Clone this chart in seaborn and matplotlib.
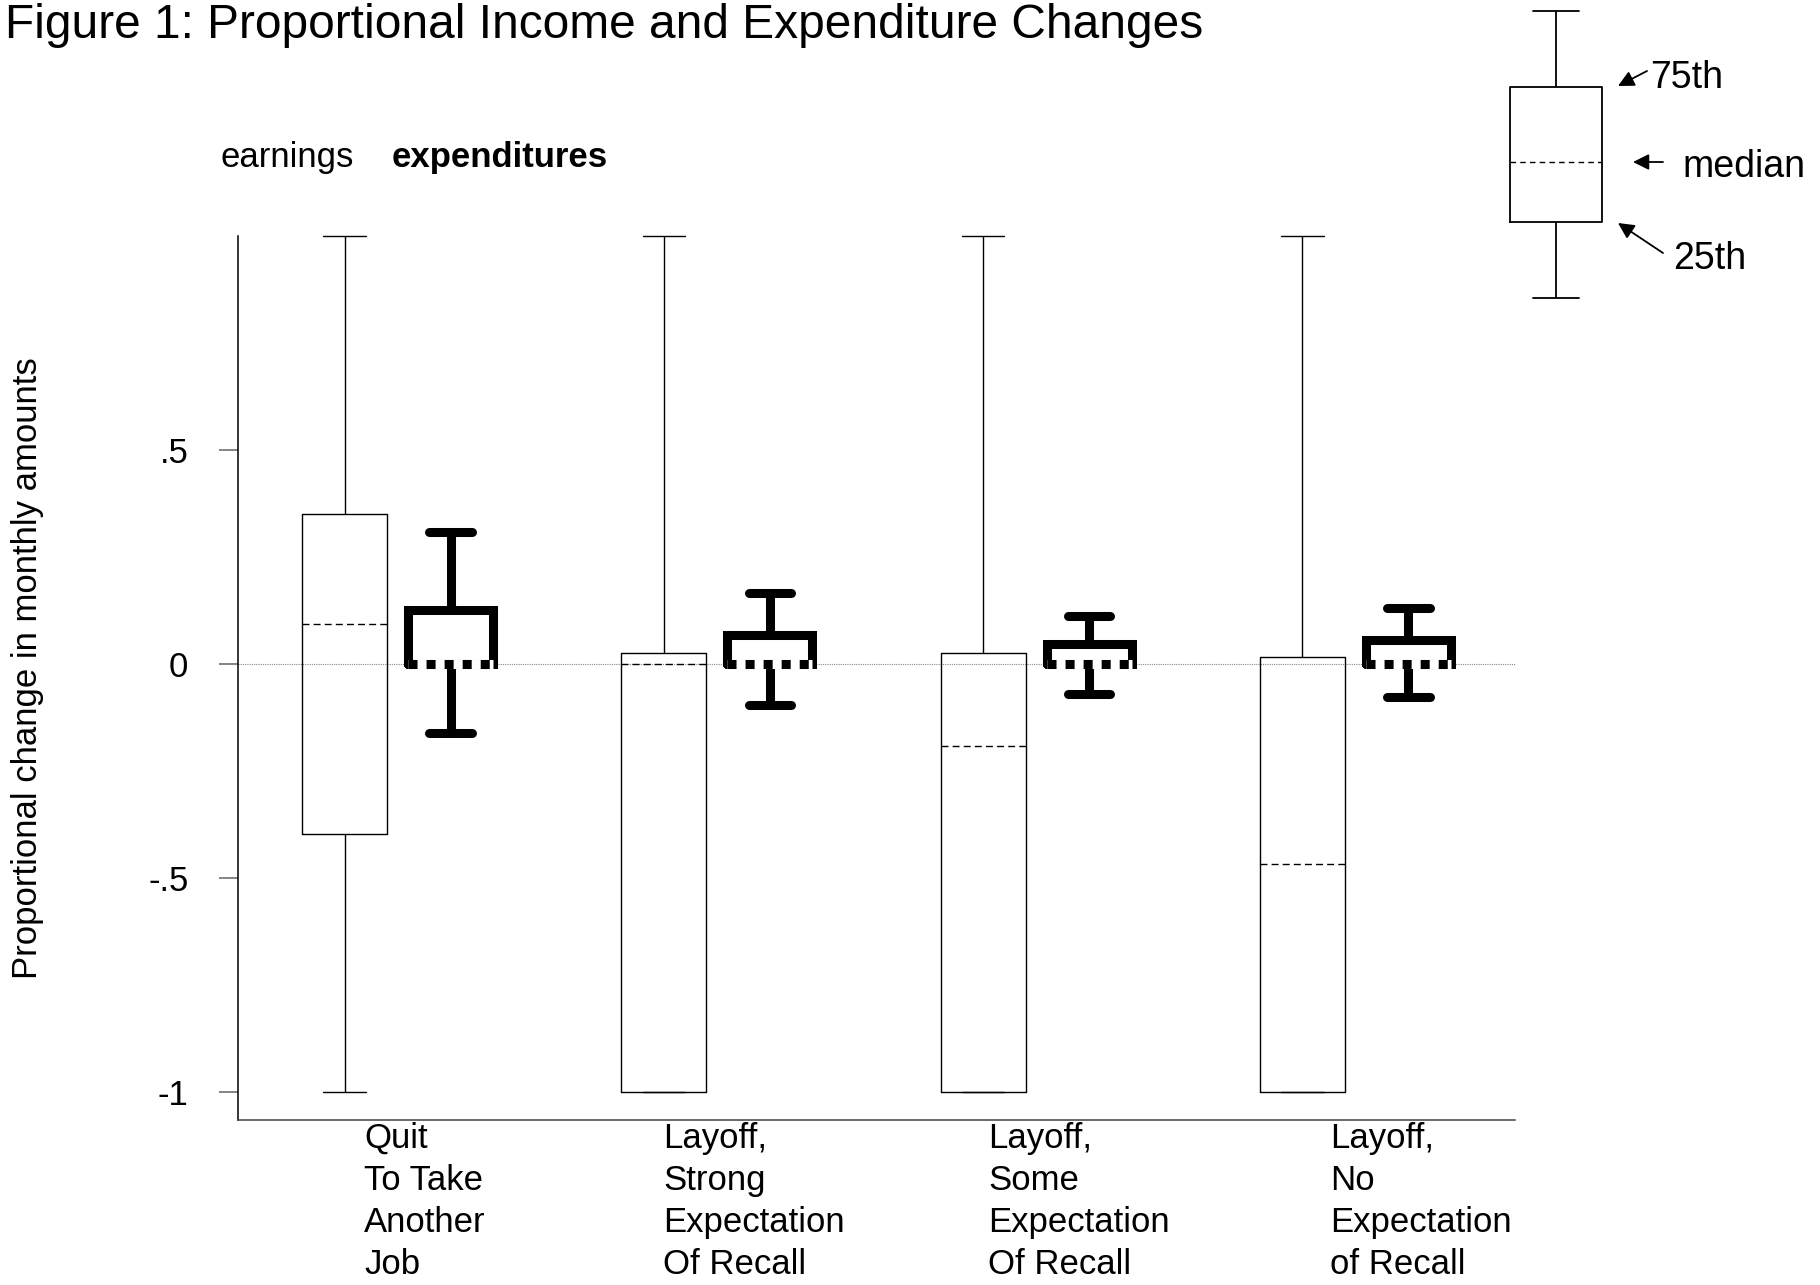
import matplotlib
matplotlib.use("Agg")
import matplotlib.pyplot as plt
import matplotlib.transforms as mtransforms
import numpy as np
import pandas as pd
import seaborn as sns

# ---------------- data ----------------
groups = ["Quit\nTo Take\nAnother\nJob",
          "Layoff,\nStrong\nExpectation\nOf Recall",
          "Layoff,\nSome\nExpectation\nOf Recall",
          "Layoff,\nNo\nExpectation\nof Recall"]
series = ["earnings", "expenditures"]

# five-number summaries: lower adjacent, 25th, median, 75th, upper adjacent
earn_low = [-1.0, -1.0, -1.0, -1.0]
earn_p25 = [-0.397, -1.0, -1.0, -1.0]
earn_med = [0.093, 0.0, -0.191, -0.467]
earn_p75 = [0.350, 0.026, 0.026, 0.017]
earn_high = [1.0, 1.0, 1.0, 1.0]

exp_low = [-0.160, -0.096, -0.069, -0.076]
exp_p25 = [0.0, 0.0, 0.0, 0.0]
exp_med = [0.0, 0.0, 0.0, 0.0]
exp_p75 = [0.126, 0.068, 0.047, 0.056]
exp_high = [0.308, 0.167, 0.112, 0.131]

yticks = [-1, -0.5, 0, 0.5]
ytick_labels = ["-1", "-.5", "0", ".5"]

# schematic key box (lower, 25th, median, 75th, upper)
key_values = [0.0, 0.76, 1.36, 2.11, 2.87]
key_labels = ["75th", "median", "25th"]

title = "Figure 1: Proportional Income and Expenditure Changes"
ylabel = "Proportional change in monthly amounts"

# ---------------- table ----------------
rows = []
for i, g in enumerate(groups):
    for v in (earn_low[i], earn_p25[i], earn_med[i], earn_p75[i], earn_high[i]):
        rows.append((g, "earnings", v))
    for v in (exp_low[i], exp_p25[i], exp_med[i], exp_p75[i], exp_high[i]):
        rows.append((g, "expenditures", v))
df = pd.DataFrame(rows, columns=["group", "series", "value"])

# ---------------- style ----------------
sns.set_theme(style="white")
plt.rcParams["font.family"] = ["Liberation Sans", "DejaVu Sans"]
plt.rcParams["text.color"] = "black"
plt.rcParams["axes.labelcolor"] = "black"
plt.rcParams["ytick.color"] = "black"

FS = 25

W, H = 1820, 1285
fig = plt.figure(figsize=(W / 100, H / 100), dpi=100)
ax = fig.add_axes([238 / W, 1 - 1120 / H, (1515 - 238) / W, (1120 - 236) / H])

ax.axhline(0, color="#8a8a8a", lw=0.8, ls=(0, (1, 1)), zorder=0.5)

pal = {"earnings": "black", "expenditures": "black"}
common = dict(x="group", y="value", hue="series", hue_order=series, order=groups,
              palette=pal, whis=(0, 100), width=0.664, gap=0.196, dodge=True,
              fill=False, legend=False, showfliers=False, ax=ax)

sns.boxplot(data=df[df.series == "earnings"], linewidth=1.0,
            medianprops=dict(linestyle=(0, (5, 3)), linewidth=1.0),
            **common)

exp_lw = 6.5
sns.boxplot(data=df[df.series == "expenditures"], linewidth=exp_lw,
            boxprops=dict(solid_joinstyle="miter"),
            medianprops=dict(linestyle=(0, (1, 1)), linewidth=exp_lw,
                             dash_capstyle="butt", gid="expmed"),
            **common)

# white under the dotted median so the lower box edge reads as dotted
for ln in list(ax.lines):
    if ln.get_gid() == "expmed":
        ln.set_zorder(5)
        ax.plot(ln.get_xdata(), ln.get_ydata(), color="white", lw=exp_lw,
                solid_capstyle="butt", zorder=4.9)

ax.set_xlim(-0.5, 3.5)
ax.set_ylim(-1.065, 1.0)
for art in ax.lines:
    art.set_clip_on(False)

ax.set_xlabel("")
ax.set_ylabel("")
ax.set_xticks(range(len(groups)))
ax.set_xticklabels([""] * len(groups))
ax.tick_params(axis="x", bottom=False, length=0)
ax.set_yticks(yticks)
ax.set_yticklabels(ytick_labels)
ax.tick_params(axis="y", left=True, length=13.7, width=1.2, color="#707070",
               pad=22, labelsize=FS, labelcolor="black")
sns.despine(ax=ax, top=True, right=True)
ax.spines["left"].set_color("black")
ax.spines["left"].set_linewidth(1.1)
ax.spines["bottom"].set_color("#404040")
ax.spines["bottom"].set_linewidth(1.1)

# category labels (left-aligned blocks below axis)
label_offsets = [-0.105, -0.169, -0.151, -0.080]
trans = mtransforms.blended_transform_factory(ax.transData, ax.transAxes)
for i, g in enumerate(groups):
    ax.text(i + label_offsets[i], -0.002, g, transform=trans, ha="left", va="top",
            fontsize=FS, linespacing=1.35, multialignment="left")

# title, y label, legend words
fig.text(5 / W, 1 - 26 / H, title, ha="left", va="center", fontsize=34.5)
fig.text(28 / W, 1 - 668 / H, ylabel, rotation=90, ha="center", va="center", fontsize=FS)
fig.text(220 / W, 1 - 157 / H, series[0], ha="left", va="center", fontsize=FS)
fig.text(392 / W, 1 - 157 / H, series[1], ha="left", va="center", fontsize=FS,
         fontweight="bold")

# ---------------- key ----------------
kax = fig.add_axes([1490 / W, 1 - 298 / H, 132 / W, (298 - 11) / H])
sns.boxplot(y=key_values, ax=kax, whis=(0, 100), fill=False, color="black",
            linewidth=1.3, width=0.697, showfliers=False,
            medianprops=dict(linestyle=(0, (4, 3)), linewidth=1.0))
kax.set_xlim(-0.5, 0.5)
kax.set_ylim(key_values[0], key_values[-1])
for art in kax.lines:
    art.set_clip_on(False)
kax.axis("off")

arrow_kw = dict(arrowstyle="-|>", color="black", lw=1.3, mutation_scale=24,
                shrinkA=0, shrinkB=0)
text_pos = [(1650, 78), (1682, 167), (1673, 259)]
arrow_from = [(1647, 71), (1663, 162), (1663, 253)]
arrow_to = [(1618, 86), (1633, 162), (1618, 223)]
for lab, (tx, ty), (x0, y0), (x1, y1) in zip(key_labels, text_pos, arrow_from, arrow_to):
    fig.text(tx / W, 1 - ty / H, lab, ha="left", va="center", fontsize=27)
    kax.annotate("", xy=(x1, H - y1), xytext=(x0, H - y0),
                 xycoords="figure pixels", textcoords="figure pixels",
                 arrowprops=arrow_kw, annotation_clip=False)

fig.savefig("out.png", dpi=100)
